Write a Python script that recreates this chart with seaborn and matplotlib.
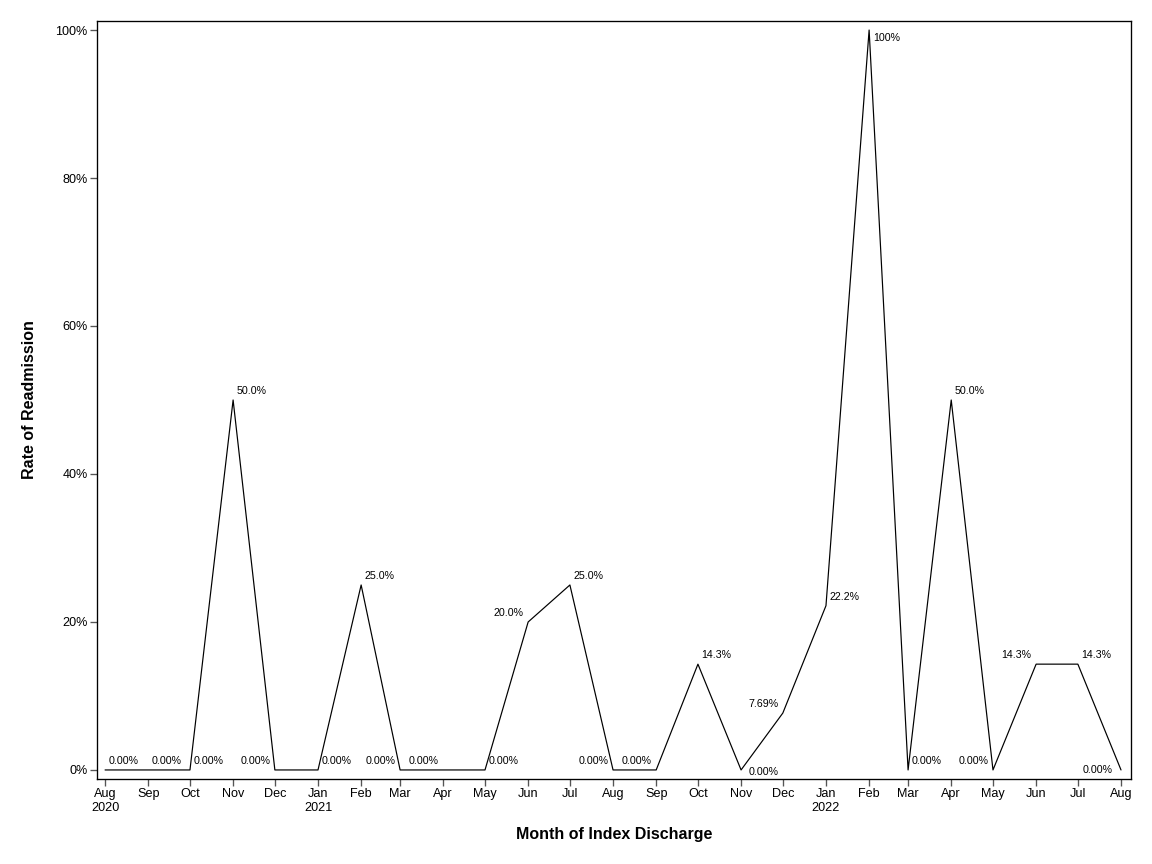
import pandas as pd
import matplotlib
matplotlib.use('Agg')
import matplotlib.pyplot as plt
import matplotlib.dates as mdates
import seaborn as sb

sb.set_style('white')
plt.rcParams['font.family'] = ['Liberation Sans', 'DejaVu Sans']
plt.rcParams['text.color'] = 'black'
plt.rcParams['axes.labelcolor'] = 'black'
plt.rcParams['xtick.labelcolor'] = 'black'
plt.rcParams['ytick.labelcolor'] = 'black'

# data
months = ['2020-08', '2020-09', '2020-10', '2020-11', '2020-12',
          '2021-01', '2021-02', '2021-03', '2021-04', '2021-05', '2021-06',
          '2021-07', '2021-08', '2021-09', '2021-10', '2021-11', '2021-12',
          '2022-01', '2022-02', '2022-03', '2022-04', '2022-05', '2022-06',
          '2022-07', '2022-08']
rate = [0, 0, 0, 50.0, 0,
        0, 25.0, 0, 0, 0, 20.0,
        25.0, 0, 0, 14.3, 0, 7.69,
        22.2, 100.0, 0, 50.0, 0, 14.3,
        14.3, 0]

# where each point label sits
label_pos = ['NE', 'NE', 'NE', 'NE', 'NW',
             'NE', 'NE', 'NW', 'NW', 'NE', 'NW',
             'NE', 'NW', 'NW', 'NE', 'E', 'NW',
             'NE', 'SE', 'NE', 'NE', 'NW', 'NW',
             'NE', 'W']

offsets = {'NE': ((2.5, 6.5), 'left'), 'NW': ((-3.5, 6.5), 'right'),
           'SE': ((3, -6), 'left'), 'E': ((6, -1.5), 'left'),
           'W': ((-6, 0), 'right')}


def fmt(v):
    if v >= 100:
        return '{:.0f}%'.format(v)
    if v >= 10:
        return '{:.1f}%'.format(v)
    return '{:.2f}%'.format(v)


df = pd.DataFrame({'month': pd.to_datetime(months), 'rate': rate})

fig = plt.figure(figsize=(12, 9), dpi=96)
ax = fig.add_axes([0.0842, 0.0984, 0.8976, 0.8773])

sb.lineplot(data=df, x='month', y='rate', color='black', linewidth=0.9, ax=ax)

for d, v, p in zip(df['month'], df['rate'], label_pos):
    off, ha = offsets[p]
    ax.annotate(fmt(v), (d, v), xytext=off, textcoords='offset points',
                ha=ha, va='center', fontsize=8, color='black')

ax.set_xlim(pd.Timestamp('2020-08-01') - pd.Timedelta(days=5.8),
            pd.Timestamp('2022-08-01') + pd.Timedelta(days=7.2))
ax.set_ylim(-1.22, 101.22)

ax.xaxis.set_major_locator(mdates.MonthLocator())


def month_label(x, pos=None):
    d = mdates.num2date(x)
    s = d.strftime('%b')
    if pos == 0 or d.month == 1:
        s += '\n' + d.strftime('%Y')
    return s


ax.xaxis.set_major_formatter(plt.FuncFormatter(month_label))
ax.set_yticks([0, 20, 40, 60, 80, 100])
ax.yaxis.set_major_formatter(plt.FuncFormatter(lambda v, p: '{:.0f}%'.format(v)))

ax.tick_params(axis='both', direction='out', length=5, width=1, color='#555555',
               labelsize=9.5, pad=2, bottom=True, left=True)
for s in ax.spines.values():
    s.set_color('black')
    s.set_linewidth(1)

ax.set_xlabel('Month of Index Discharge', fontsize=12, fontweight='bold', labelpad=10)
ax.set_ylabel('Rate of Readmission', fontsize=12, fontweight='bold', labelpad=14)

fig.savefig('out.png', dpi=96)
